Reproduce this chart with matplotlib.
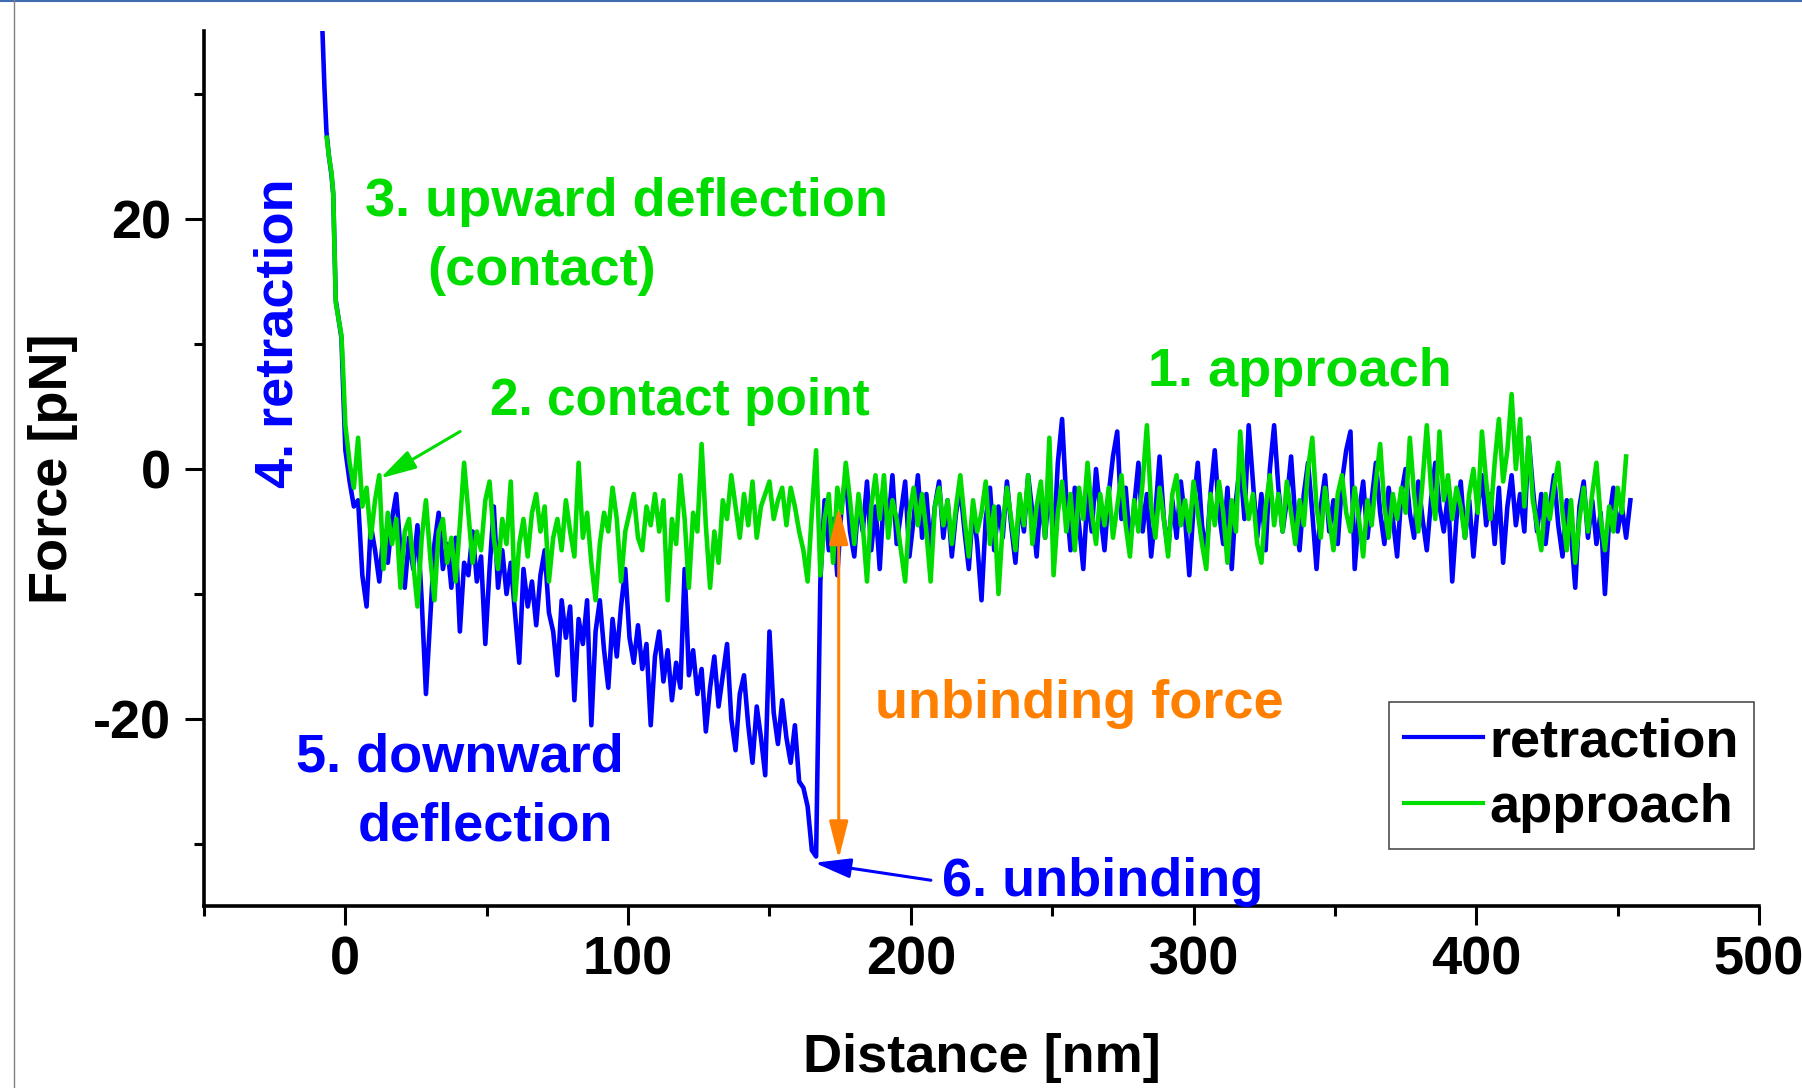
import numpy as np
import matplotlib
matplotlib.use("Agg")
import matplotlib.pyplot as plt
from matplotlib.patches import FancyArrowPatch
from matplotlib.lines import Line2D

plt.rcParams['font.family'] = ['Liberation Sans', 'DejaVu Sans']
plt.rcParams['font.weight'] = 'bold'
plt.rcParams['axes.unicode_minus'] = False

BLUE = '#0000FF'
GREEN = '#00DC00'
ORANGE = '#FF8000'

# contact (steep) part of both curves, x in nm, force in pN
retract_contact_nm = [-8.1, -7.4, -6.7, -5.8, -4.9, -4.3, -3.4, -2.4, -1.4, -0.8]
retract_contact_pn = [35.0, 30.5, 27.0, 25.0, 23.5, 22.0, 13.5, 12.0, 10.5, 6.5]
approach_contact_nm = [-6.6, -5.8, -4.9, -4.3, -3.4, -2.4, -1.4, -0.8]
approach_contact_pn = [26.5, 25.0, 23.7, 22.1, 13.3, 12.0, 10.7, 7.9]

# sampled every 1.5 nm starting at 0 nm
STEP_NM = 1.5
retract_pn = [
    1.5, -1.0, -3.0, -2.5, -8.5, -11.0, -4.5, -6.5, -9.0, -5.0, -7.5, -4.0, -2.0, -6.5, -9.5, -5.5, -8.0, -4.5, -10.5, -18.0,
    -12.0, -6.0, -3.5, -8.0, -6.0, -9.5, -5.5, -13.0, -7.5, -8.5, -5.0, -9.0, -7.0, -14.0, -8.0, -3.0, -9.5, -6.5, -10.0, -7.5,
    -11.5, -15.5, -8.0, -11.0, -9.0, -12.5, -8.5, -6.5, -11.5, -13.0, -16.5, -10.5, -13.5, -11.0, -18.5, -12.0, -14.0, -10.5, -20.5, -13.0,
    -10.5, -14.5, -17.5, -12.0, -15.0, -11.0, -8.0, -13.5, -15.5, -12.5, -16.0, -14.0, -20.5, -15.0, -13.0, -17.0, -14.5, -18.5, -15.5, -17.5,
    -8.0, -16.5, -14.5, -18.0, -16.0, -21.0, -17.5, -15.0, -19.0, -16.5, -14.0, -20.0, -22.5, -18.0, -16.5, -20.5, -23.5, -19.0, -21.5, -24.5,
    -13.0, -19.5, -22.0, -18.5, -21.5, -23.5, -20.5, -25.0, -25.5, -27.0, -30.5, -31.0, -9.0, -2.5, -6.5, -4.0, -8.5, -3.0, -0.5, -5.0,
    -7.0, -2.5, -5.0, -1.0, -6.5, -3.0, -8.0, -2.0, -4.5, -0.5, -6.0, -3.5, -1.0, -7.0, -4.0, -0.5, -5.5, -2.0, -6.5, -3.0,
    -1.0, -5.5, -2.5, -7.0, -3.5, -1.5, -5.0, -8.0, -3.0, -6.0, -10.5, -4.0, -1.5, -6.5, -3.0, -5.5, -1.0, -4.5, -7.5, -2.5,
    -5.0, -0.5, -3.5, -7.0, -2.0, -5.5, -1.0, -6.0, 0.5, 4.0, -2.5, -6.5, -1.5, -4.5, -8.0, -2.0, -5.0, 0.0, -3.5, -6.5,
    -2.0, 1.0, 3.0, -4.0, -1.5, -6.0, -3.0, 0.5, -5.0, -2.0, -7.0, -3.5, 1.0, -4.0, -6.5, -2.5, -5.5, -1.0, -4.0, -8.5,
    -3.0, 0.5, -4.5, -7.0, -2.0, 1.5, -3.5, -6.0, -1.5, -8.0, -2.5, 0.5, -4.0, 3.5, -1.0, -5.5, -2.0, -6.5, 0.0, 3.5,
    -1.5, -5.0, -2.5, 1.0, -4.0, -6.5, -2.0, 0.5, -3.5, -8.0, -3.0, -0.5, -5.0, -2.5, -6.0, -1.0, 1.5, 3.0, -8.0, -3.5,
    -1.0, -5.5, -2.5, 0.5, -3.5, -6.0, -1.5, -4.0, -7.0, -2.0, 0.0, -3.5, -5.5, -1.0, -4.0, -6.5, -2.5, 0.5, -3.0, -5.0,
    -2.0, -9.0, -4.0, -1.0, -5.5, -2.5, -7.0, -3.0, -0.5, -4.5, -2.0, -6.0, -1.5, -7.5, -3.0, -0.5, -4.5, -2.0, -5.0, 2.5,
    -1.5, -5.0, -2.0, -6.0, -3.0, -0.5, -4.5, -7.0, -2.5, -5.0, -9.5, -3.0, -1.0, -5.5, -2.5, -6.0, -3.5, -10.0, -4.0, -1.5,
    -5.0, -3.0, -5.5, -2.5,
]
approach_pn = [
    3.5, 0.5, -1.5, 2.5, -3.0, -1.5, -5.5, -2.5, -0.5, -8.0, -3.5, -6.0, -4.0, -9.5, -5.0, -4.0, -7.5, -11.0, -5.5, -2.5,
    -7.0, -10.5, -5.0, -4.0, -7.5, -5.5, -9.0, -4.5, 0.5, -3.5, -7.5, -5.0, -6.5, -2.5, -1.0, -5.5, -8.0, -4.0, -6.0, -1.0,
    -10.5, -6.0, -4.0, -7.0, -3.5, -2.0, -5.0, -3.0, -9.0, -5.5, -4.0, -6.5, -2.5, -5.0, -7.0, 0.5, -5.5, -3.5, -7.5, -10.5,
    -6.0, -3.5, -5.0, -1.5, -4.0, -9.0, -5.0, -3.5, -2.0, -5.5, -6.5, -3.0, -4.5, -2.0, -5.0, -2.5, -10.5, -4.0, -6.0, -0.5,
    -4.0, -9.5, -3.5, -5.0, 2.0, -4.5, -9.5, -5.0, -7.5, -2.5, -4.0, -0.5, -3.0, -5.5, -2.0, -4.5, -1.0, -5.5, -3.0, -2.0,
    -1.0, -4.0, -2.5, -1.5, -4.5, -1.5, -3.0, -5.0, -6.5, -9.0, -3.5, 1.5, -8.5, -4.0, -2.0, -7.5, -1.5, -3.5, 0.5, -2.5,
    -6.0, -2.0, -4.5, -9.0, -3.0, -0.5, -4.0, -0.5, -5.5, -2.5, -4.0, -6.5, -9.0, -3.5, -1.5, -4.5, -2.0, -5.0, -9.0, -3.0,
    -1.5, -4.5, -2.5, -6.0, -3.0, -0.5, -4.0, -7.0, -2.5, -5.0, -3.5, -1.0, -6.0, -3.0, -10.0, -4.5, -1.5, -4.0, -6.5, -2.0,
    -4.5, -0.5, -6.0, -3.0, -1.0, -5.5, 2.5, -8.5, -3.5, -1.0, -5.0, -2.0, -6.5, -1.5, -4.0, 0.5, -3.5, -6.0, -2.0, -4.5,
    -1.5, -5.5, -3.0, -0.5, -4.5, -7.0, -2.5, -5.0, -1.0, 3.5, -3.0, -5.5, -1.5, -4.0, -7.0, -2.0, -0.5, -4.5, -2.5, -5.0,
    -1.0, -3.5, -6.0, -8.0, -2.0, -4.5, -1.0, -3.5, -7.5, -2.5, -5.0, 3.0, -1.5, -4.0, -2.0, -6.0, -7.5, -3.0, -0.5, -4.5,
    -2.0, -5.0, -1.0, -3.5, -6.0, -2.5, -4.5, 0.0, 2.5, -3.0, -5.5, -1.5, -4.0, -6.5, -2.0, -0.5, -3.5, -5.0, -1.5, -4.0,
    -7.0, -2.5, -4.5, -1.0, 2.0, -3.0, -5.5, -2.0, -4.0, -1.5, -3.5, 2.5, -2.0, -5.0, -1.0, 3.5, -1.5, -4.0, 3.0, -2.5,
    -0.5, -4.0, -1.5, -3.0, -5.5, -2.0, 0.0, -3.5, 3.0, -1.0, -4.0, 0.5, 4.0, -1.0, 1.5, 6.0, 0.0, 4.0, -3.0, 2.5,
    -2.5, -4.5, -6.5, -2.0, -4.0, -1.5, 0.5, -3.5, -6.5, -2.5, -7.5, -4.0, -1.5, -5.0, -2.0, 0.5, -4.0, -6.5, -3.0, -5.0,
    -1.5, -3.5, 1.0,
]

retract_x = np.concatenate([retract_contact_nm, np.arange(len(retract_pn)) * STEP_NM])
retract_y = np.concatenate([retract_contact_pn, retract_pn])
approach_x = np.concatenate([approach_contact_nm, np.arange(len(approach_pn)) * STEP_NM])
approach_y = np.concatenate([approach_contact_pn, approach_pn])

fig = plt.figure(figsize=(18.02, 10.88), dpi=100)
ax = fig.add_axes([0.11321, 0.16682, 0.86293, 0.80423])

ax.plot(retract_x, retract_y, color=BLUE, lw=3.3, label='retraction')
ax.plot(approach_x, approach_y, color=GREEN, lw=3.3, label='approach')

ax.set_xlim(-50, 500)
ax.set_ylim(-35, 35)
ax.set_xticks([0, 100, 200, 300, 400, 500])
ax.set_xticks([-50, 50, 150, 250, 350, 450], minor=True)
ax.set_yticks([-20, 0, 20])
ax.set_yticks([-30, -10, 10, 30], minor=True)

for side in ('top', 'right'):
    ax.spines[side].set_visible(False)
for side in ('left', 'bottom'):
    ax.spines[side].set_linewidth(2.6)

ax.tick_params(which='major', direction='out', length=13.7, width=2.2, labelsize=39)
ax.tick_params(which='minor', direction='out', length=7.2, width=2.2)
ax.tick_params(axis='x', which='major', pad=7)
ax.tick_params(axis='y', which='major', pad=10)

ax.set_xlabel('Distance [nm]', fontsize=39, fontweight='bold')
ax.set_ylabel('Force [pN]', fontsize=39, fontweight='bold')
ax.xaxis.set_label_coords(0.5, -0.145)
ax.yaxis.set_label_coords(-0.081, 0.5)

# annotations
fs = 39
ax.text(6.9, 20.2, '3. upward deflection', color=GREEN, fontsize=fs, ha='left', va='baseline')
ax.text(28.8, 14.7, '(contact)', color=GREEN, fontsize=fs, ha='left', va='baseline')
ax.text(51.3, 4.3, '2. contact point', color=GREEN, fontsize=37, ha='left', va='baseline')
ax.text(283.9, 6.6, '1. approach', color=GREEN, fontsize=fs, ha='left', va='baseline')
ax.text(-18.6, -1.5, '4. retraction', color=BLUE, fontsize=fs, rotation=90,
        rotation_mode='anchor', ha='left', va='baseline')
ax.text(-17.3, -24.2, '5. downward', color=BLUE, fontsize=fs, ha='left', va='baseline')
ax.text(4.5, -29.7, 'deflection', color=BLUE, fontsize=fs, ha='left', va='baseline')
ax.text(211.1, -34.2, '6. unbinding', color=BLUE, fontsize=fs, ha='left', va='baseline')
ax.text(187.3, -19.9, 'unbinding force', color=ORANGE, fontsize=fs, ha='left', va='baseline')

ax.add_patch(FancyArrowPatch((40.6, 3.0), (12.3, -0.75), arrowstyle='-|>,head_length=2.2,head_width=0.6',
                             mutation_scale=10, color=GREEN, lw=2.2, shrinkA=0, shrinkB=0, zorder=4))
ax.add_patch(FancyArrowPatch((207.1, -32.9), (165.9, -31.5), arrowstyle='-|>,head_length=2.2,head_width=0.6',
                             mutation_scale=10, color=BLUE, lw=2.2, shrinkA=0, shrinkB=0, zorder=4))
ax.add_patch(FancyArrowPatch((174.5, -31.2), (174.5, -3.0), arrowstyle='<|-|>,head_length=2.3,head_width=0.58',
                             mutation_scale=10, color=ORANGE, lw=2.2, shrinkA=0, shrinkB=0, zorder=4))

leg = ax.legend(loc='upper left', bbox_to_anchor=(1389 / 1802, 1 - 702 / 1088),
                bbox_transform=fig.transFigure, borderaxespad=0, fontsize=39,
                frameon=True, fancybox=False, framealpha=1, edgecolor='#404040',
                borderpad=0.28, labelspacing=0.3, handlelength=1.45, handletextpad=0.12)
leg.get_frame().set_linewidth(1.1)
for line in leg.get_lines():
    line.set_linewidth(3.0)

# page border lines
fig.add_artist(Line2D([0, 1], [0.999, 0.999], transform=fig.transFigure, color='#3f6db0', lw=1.5))
fig.add_artist(Line2D([14 / 1802, 14 / 1802], [0, 1], transform=fig.transFigure, color='#808080', lw=1.0))

fig.savefig('out.png', dpi=100)
